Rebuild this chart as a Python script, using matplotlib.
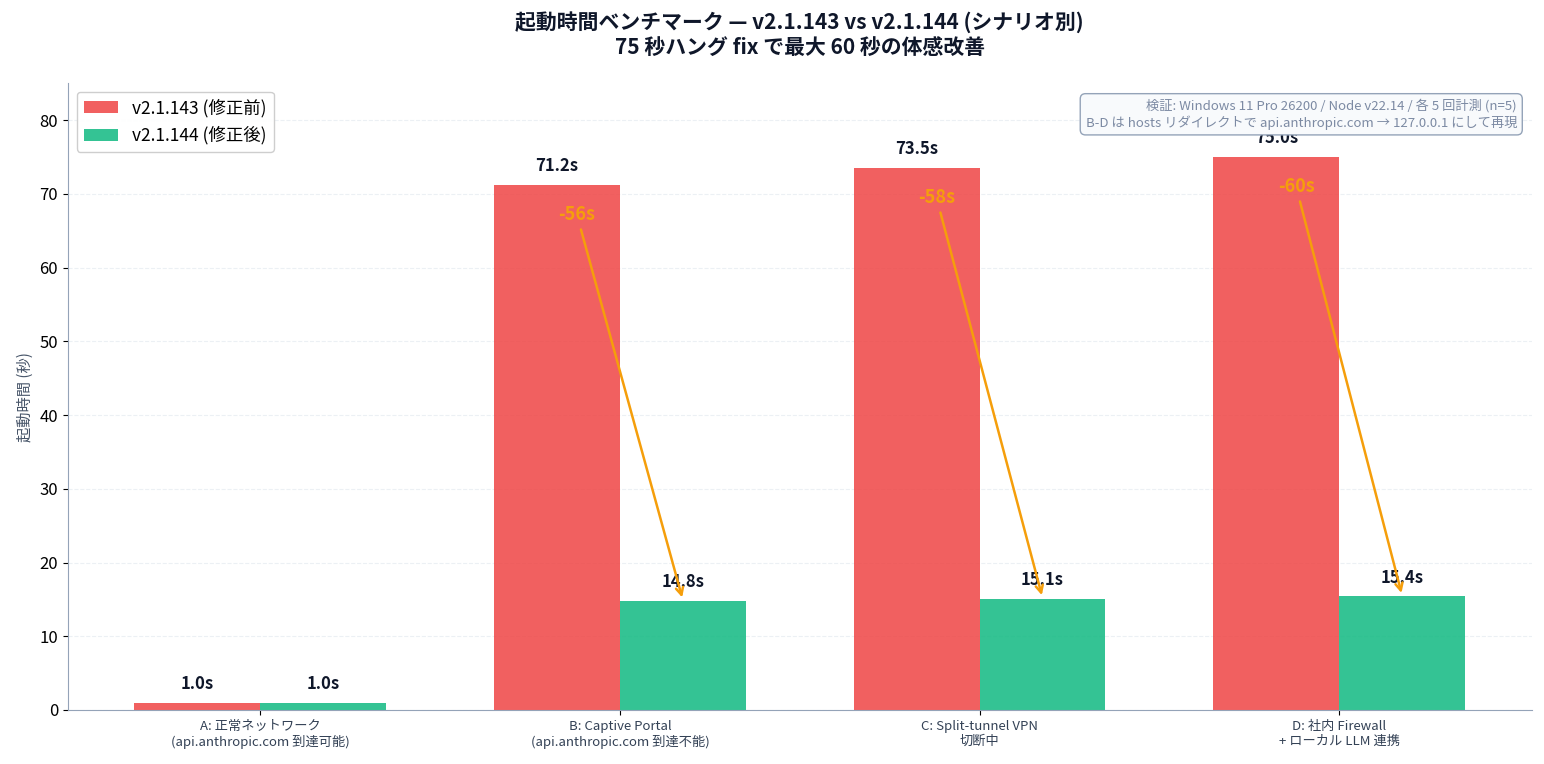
import matplotlib
matplotlib.use("Agg")
import matplotlib.pyplot as plt
import numpy as np

plt.rcParams['font.family'] = ['Noto Sans CJK JP', 'DejaVu Sans']

scenarios = [
    "A: 正常ネットワーク\n(api.anthropic.com 到達可能)",
    "B: Captive Portal\n(api.anthropic.com 到達不能)",
    "C: Split-tunnel VPN\n切断中",
    "D: 社内 Firewall\n+ ローカル LLM 連携",
]
before = [1.0, 71.2, 73.5, 75.0]
after = [1.0, 14.8, 15.1, 15.4]
legend_labels = ["v2.1.143 (修正前)", "v2.1.144 (修正後)"]

red = "#ef4444"
green = "#10b981"
orange = "#f59e0b"
dark = "#0f172a"

fig, ax = plt.subplots(figsize=(15.44, 7.64), dpi=100)
x = np.arange(len(scenarios))
w = 0.35

b1 = ax.bar(x - w / 2, before, w, color=red, alpha=0.85, label=legend_labels[0])
b2 = ax.bar(x + w / 2, after, w, color=green, alpha=0.85, label=legend_labels[1])

for bars in (b1, b2):
    for r in bars:
        h = r.get_height()
        ax.text(r.get_x() + r.get_width() / 2, h + 1.3, f"{h:.1f}s",
                ha="center", va="bottom", fontsize=12, fontweight="bold", color=dark)

# 改善幅の矢印 (A は差なし)
for i in range(1, len(scenarios)):
    diff = after[i] - before[i]
    ax.annotate(f"{diff:.0f}s", xy=(x[i] + w / 2, after[i] + 0.1),
                xytext=(x[i] - 0.12, before[i] - 4),
                ha="center", va="center", fontsize=13, fontweight="bold", color=orange,
                arrowprops=dict(arrowstyle="->", color=orange, lw=1.8))

ax.set_ylim(0, 85)
ax.set_xticks(x)
ax.set_xticklabels(scenarios, fontsize=9.5, color="#334155")
ax.tick_params(axis="y", labelsize=12)
ax.set_ylabel("起動時間 (秒)", fontsize=11, color="#475569")
ax.set_title("起動時間ベンチマーク — v2.1.143 vs v2.1.144 (シナリオ別)\n75 秒ハング fix で最大 60 秒の体感改善",
             fontsize=15, fontweight="bold", color=dark, pad=21, linespacing=1.25)

ax.grid(axis="y", linestyle="--", alpha=0.35, color="#cbd5e1")
ax.set_axisbelow(True)
for s in ("top", "right"):
    ax.spines[s].set_visible(False)
for s in ("left", "bottom"):
    ax.spines[s].set_color("#94a3b8")

ax.legend(loc="upper left", fontsize=12.5, framealpha=0.95)

ax.text(0.99, 0.975,
        "検証: Windows 11 Pro 26200 / Node v22.14 / 各 5 回計測 (n=5)\n"
        "B-D は hosts リダイレクトで api.anthropic.com → 127.0.0.1 にして再現",
        transform=ax.transAxes, ha="right", va="top", fontsize=9.5, color="#7c8aa3",
        zorder=10,
        bbox=dict(boxstyle="round,pad=0.4", facecolor="#f8fafc", edgecolor="#94a3b8"))

fig.subplots_adjust(left=0.044, right=0.992, top=0.891, bottom=0.0707)
fig.savefig("out.png", dpi=100)
